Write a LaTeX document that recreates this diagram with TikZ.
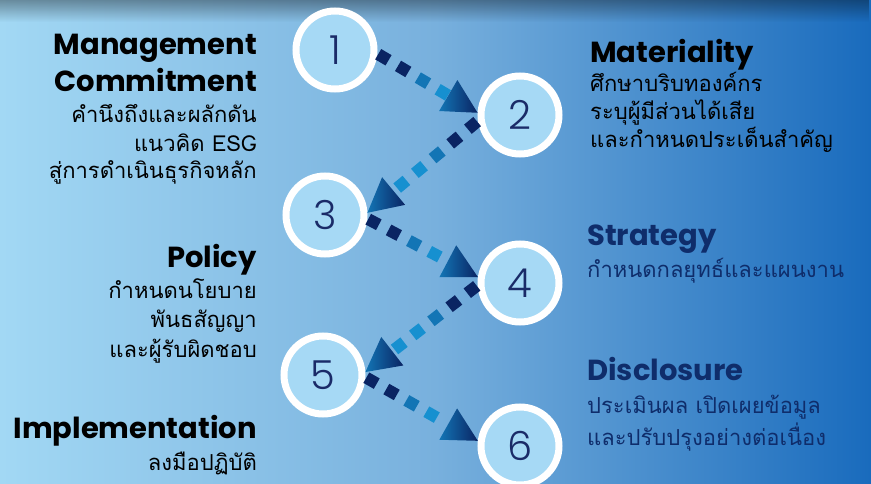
\documentclass[tikz,border=0pt]{standalone}
\usepackage{fontspec}
\setmainfont{Poppins}
\newfontfamily\thaifont[Script=Thai]{Loma}
\newfontfamily\digitfont{Poppins Light}
\usetikzlibrary{decorations.markings,fadings,shadows}

\definecolor{stepnavy}{HTML}{0A2463}
\definecolor{stepcyan}{HTML}{1690D0}
\definecolor{ringblue}{HTML}{A6D9F5}
\definecolor{digitblue}{HTML}{1A2B68}
\definecolor{textnavy}{HTML}{0F2D6B}
\definecolor{bgleft}{HTML}{A2D8F4}
\definecolor{bgmid}{HTML}{78B0DD}
\definecolor{bgright}{HTML}{196BBD}

\tikzset{
  stepcircle/.style={shape=circle,draw=white,line width=7pt,fill=ringblue,
    minimum size=78pt,inner sep=0pt,outer sep=3.5pt,text=digitblue,
    font=\digitfont\fontsize{40}{40}\selectfont,
    drop shadow={opacity=0.3,shadow xshift=2pt,shadow yshift=-2.5pt}},
  heading/.style={font=\fontsize{29}{37}\selectfont\bfseries,inner sep=0pt},
  thaitext/.style={font=\thaifont\fontsize{22}{28}\selectfont,inner sep=0pt},
  dotarrow/.style={decoration={markings,
      mark=between positions 7pt and -40pt step 23pt with {
        \pgfmathtruncatemacro\mixpct{max(0,min(100,(\pgfkeysvalueof{/pgf/decoration/mark info/sequence number}-2)*75))}
        \fill[stepcyan!\mixpct!stepnavy] (-6pt,-6pt) rectangle (6pt,6pt);},
      mark=at position 1 with {
        \shade[left color=stepcyan!75!stepnavy,right color=stepnavy]
          (0pt,0pt) -- (-34pt,18pt) -- (-34pt,-18pt) -- cycle;}},
    postaction={decorate}}
}

\begin{document}
\begin{tikzpicture}[x=1pt,y=-1pt]
\useasboundingbox (0,0) rectangle (871,484);
% background
\shade[left color=bgleft,right color=bgmid] (0,0) rectangle (436,484);
\shade[left color=bgmid,right color=bgright] (435.5,0) rectangle (871,484);
\fill[black,opacity=0.35,path fading=south] (0,0) rectangle (871,22);

% steps
\node[stepcircle] (S1) at (335,50) {1};
\node[stepcircle] (S2) at (520,115) {2};
\node[stepcircle] (S3) at (325,215) {3};
\node[stepcircle] (S4) at (520,283) {4};
\node[stepcircle] (S5) at (323,375) {5};
\node[stepcircle] (S6) at (520,446) {6};

\path[dotarrow] (S1.-5) -- (S2.177);
\path[dotarrow] (S2.188) -- (S3.3);
\path[dotarrow] (S3.-5) -- (S4.172);
\path[dotarrow] (S4.183) -- (S5.4);
\path[dotarrow] (S5.-3) -- (S6.173);

% left texts (base = last line)
\node[heading,anchor=base east,align=right] (mgmt) at (257,92) {Management\\Commitment};
\node[thaitext,anchor=base east,align=right] (mgmtth) at (257,179) {คำนึงถึงและผลักดัน\\แนวคิด ESG\\สู่การดำเนินธุรกิจหลัก};
\node[heading,anchor=base east] (policy) at (257,267) {Policy};
\node[thaitext,anchor=base east,align=right,font=\thaifont\fontsize{22}{29.5}\selectfont] (policyth) at (257,357) {กำหนดนโยบาย\\พันธสัญญา\\และผู้รับผิดชอบ};
\node[heading,anchor=base east] (impl) at (257,438) {Implementation};
\node[thaitext,anchor=base east] (implth) at (257,470) {ลงมือปฏิบัติ};

% right texts
\node[heading,anchor=base west] (mat) at (590,63) {Materiality};
\node[thaitext,anchor=base west,align=left] (matth) at (590,148) {ศึกษาบริบทองค์กร\\ระบุผู้มีส่วนได้เสีย\\และกำหนดประเด็นสำคัญ};
\node[heading,text=textnavy,anchor=base west] (strat) at (587,245) {Strategy};
\node[thaitext,text=textnavy,anchor=base west] (stratth) at (587,277) {กำหนดกลยุทธ์และแผนงาน};
\node[heading,text=textnavy,anchor=base west] (disc) at (587,380) {Disclosure};
\node[thaitext,text=textnavy,anchor=base west,align=left,font=\thaifont\fontsize{22}{32}\selectfont] (discth) at (587,445) {ประเมินผล เปิดเผยข้อมูล\\และปรับปรุงอย่างต่อเนื่อง};
\end{tikzpicture}
\end{document}
